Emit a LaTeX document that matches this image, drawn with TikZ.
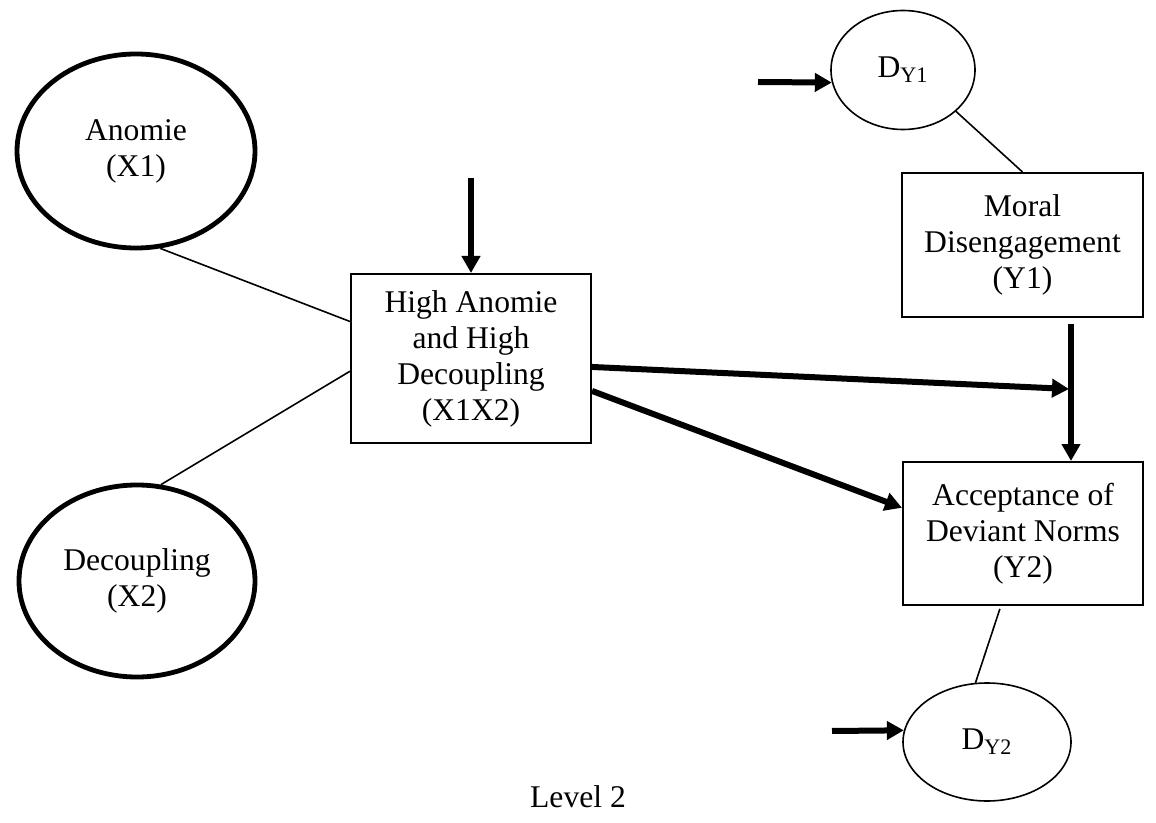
\documentclass[tikz,border=0pt]{standalone}
\usepackage{fontspec}
\setmainfont{Liberation Serif}
\usetikzlibrary{shapes.geometric,arrows.meta}

\tikzset{
  every node/.style={font=\fontsize{15.8}{18}\selectfont, align=center, inner sep=0pt},
  latent/.style={ellipse, draw, line width=2.4pt},
  dist/.style={ellipse, draw, line width=0.8pt},
  measured/.style={rectangle, draw, line width=1pt},
  link/.style={line width=0.8pt},
  path arrow/.style={line width=3pt, -{Triangle[length=8.5pt,width=9pt]}},
}

\begin{document}
\begin{tikzpicture}[x=0.5pt,y=-0.5pt]
  \useasboundingbox (0,0) rectangle (1156,823);

  % exogenous latent variables
  \node[latent, minimum width=119pt, minimum height=97pt] (anomie) at (136,151) {Anomie\\(X1)};
  \node[latent, minimum width=118pt, minimum height=96pt] (decoup) at (137,581) {Decoupling\\(X2)};

  % interaction term
  \node[measured, minimum width=120pt, minimum height=84.5pt] (inter) at (471,358.5)
    {High Anomie\\and High\\Decoupling\\(X1X2)};

  % outcomes
  \node[measured, minimum width=120.5pt, minimum height=72pt] (moral) at (1022.5,245)
    {Moral\\Disengagement\\(Y1)};
  \node[measured, minimum width=120pt, minimum height=71.5pt] (accept) at (1023,533.5)
    {Acceptance of\\Deviant Norms\\(Y2)};

  % disturbances
  \node[dist, minimum width=72pt, minimum height=59.5pt] (dy1) at (903,70) {D\textsubscript{Y1}};
  \node[dist, minimum width=84pt, minimum height=59pt] (dy2) at (987,742) {D\textsubscript{Y2}};

  \node (level) at (578,797) {Level 2};

  % free ends of the arrows
  \coordinate (topin) at (471,178);
  \coordinate (d1in) at (758,82);
  \coordinate (d2in) at (832,731);
  \coordinate (junc) at (1069,389);
  \coordinate (vline) at (1071,389);

  % constituent links
  \draw[link] (anomie.-76) -- (inter.163);
  \draw[link] (decoup.76) -- (inter.186);
  \draw[link] (dy1.-38) -- (moral.north);
  \draw[link, shorten <=1.5pt] (accept.253) -- (dy2.101.5);

  % structural paths
  \draw[path arrow] (topin) -- (inter.north);
  \draw[path arrow] (d1in) -- (dy1.190);
  \draw[path arrow] (d2in) -- (dy2.172.5);
  \draw[path arrow] (inter.-4) -- (junc);
  \draw[path arrow] (inter.-15) -- (accept.168);
  \draw[path arrow, shorten <=3pt] (moral.south -| vline) -- (accept.north -| vline);
\end{tikzpicture}
\end{document}
